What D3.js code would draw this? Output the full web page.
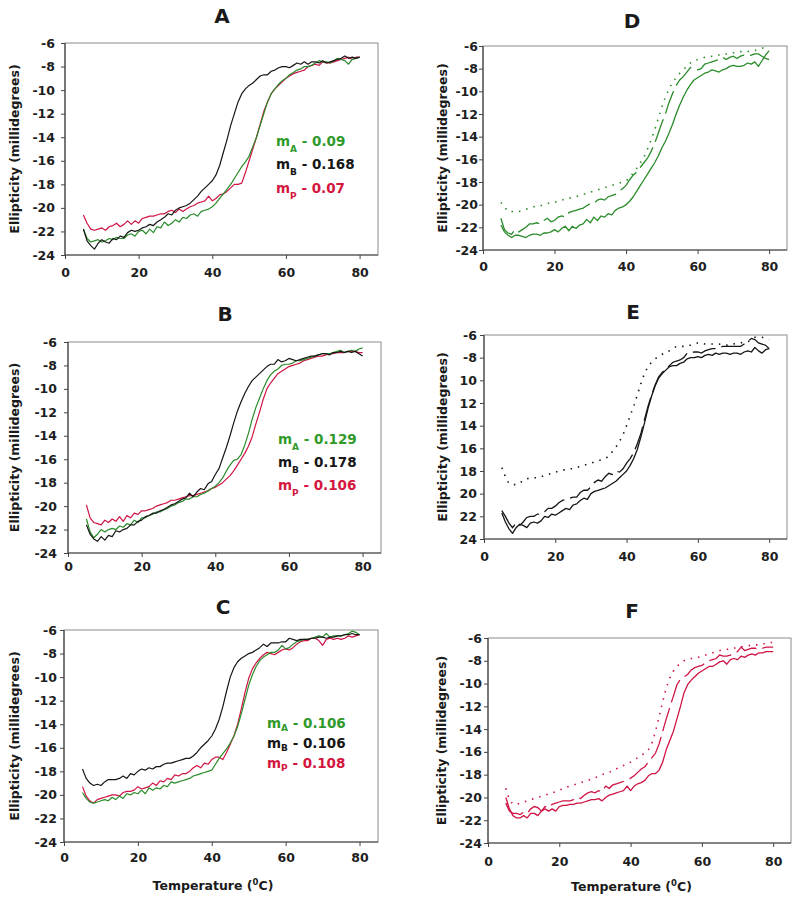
<!DOCTYPE html>
<html><head><meta charset="utf-8">
<script src="https://cdn.jsdelivr.net/npm/d3@7"></script>
<style>
body{margin:0;background:#fff}
svg{display:block}
text{font-family:"DejaVu Sans",Verdana,sans-serif;font-weight:bold}
</style>
</head><body>
<svg id="chart" width="800" height="900"></svg>
<script>
const temps=[5,6,7,8,9,10,11,12,13,14,15,16,17,18,19,20,21,22,23,24,25,26,27,28,29,30,31,32,33,34,35,36,37,38,39,40,41,42,43,44,45,46,47,48,49,50,51,52,53,54,55,56,57,58,59,60,61,62,63,64,65,66,67,68,69,70,71,72,73,74,75,76,77,78,79,80];

const aBlack=[-21.8,-22.8,-23.2,-23.5,-23.0,-22.7,-22.9,-23.0,-22.6,-22.7,
-22.4,-22.5,-22.1,-21.9,-22.0,-21.9,-21.7,-21.6,-21.4,-21.5,
-21.2,-21.0,-20.8,-20.5,-20.6,-20.2,-20.0,-19.9,-19.8,-19.6,
-19.3,-19.0,-18.6,-18.3,-18.0,-17.7,-17.2,-16.4,-15.3,-14.2,
-13.0,-12.0,-11.0,-10.3,-9.9,-9.6,-9.4,-9.1,-8.8,-8.7,
-8.7,-8.4,-8.3,-8.1,-8.0,-8.0,-8.1,-7.9,-7.7,-7.8,
-7.6,-7.8,-7.6,-7.6,-7.7,-7.5,-7.7,-7.6,-7.5,-7.4,
-7.3,-7.1,-7.3,-7.2,-7.3,-7.2];
const aGreen=[-21.8,-22.6,-22.9,-22.8,-22.7,-22.9,-22.8,-22.6,-22.7,-22.5,
-22.6,-22.6,-22.3,-22.2,-22.4,-22.0,-21.9,-22.2,-21.8,-22.1,
-21.6,-21.7,-21.2,-21.5,-21.3,-21.0,-21.2,-20.8,-20.9,-20.6,
-20.5,-20.7,-20.3,-20.2,-20.1,-19.9,-19.6,-19.2,-18.8,-18.4,
-18.0,-17.5,-17.0,-16.5,-16.1,-15.6,-14.8,-14.0,-13.0,-12.0,
-11.0,-10.3,-9.9,-9.5,-9.2,-9.0,-8.7,-8.5,-8.3,-8.2,
-8.0,-8.0,-7.9,-7.7,-7.5,-7.6,-7.6,-7.7,-7.5,-7.3,
-7.4,-7.5,-7.8,-7.4,-7.3,-7.2];
const aRed=[-20.6,-21.3,-21.8,-21.9,-21.8,-21.7,-21.9,-21.6,-21.5,-21.3,
-21.6,-21.4,-21.1,-21.4,-21.1,-21.3,-20.9,-20.8,-20.7,-20.7,
-20.6,-20.5,-20.5,-20.3,-20.2,-20.4,-20.1,-20.3,-20.1,-19.9,
-19.8,-19.6,-19.5,-19.4,-19.0,-19.4,-19.2,-18.9,-18.8,-18.6,
-18.3,-18.0,-18.0,-17.9,-17.0,-16.0,-15.0,-14.0,-12.9,-11.8,
-11.0,-10.3,-9.9,-9.6,-9.3,-9.0,-8.8,-8.6,-8.5,-8.4,
-8.3,-8.0,-7.9,-7.8,-7.9,-7.6,-7.7,-7.7,-7.6,-7.5,
-7.4,-7.3,-7.2,-7.4,-7.2,-7.2];

const bBlack=[-21.6,-22.4,-22.8,-23.0,-22.6,-22.9,-22.5,-22.6,-22.1,-22.2,
-22.0,-21.9,-21.6,-21.6,-21.3,-21.2,-20.9,-20.8,-20.6,-20.6,
-20.4,-20.3,-20.1,-19.9,-19.8,-19.6,-19.4,-19.3,-18.9,-19.2,
-18.8,-18.5,-18.6,-18.1,-17.9,-17.3,-16.8,-15.9,-15.0,-14.0,
-12.9,-11.9,-11.1,-10.4,-9.8,-9.3,-9.0,-8.7,-8.4,-8.1,
-7.9,-7.9,-7.5,-7.7,-7.6,-7.4,-7.5,-7.6,-7.5,-7.4,
-7.3,-7.2,-7.2,-7.1,-7.0,-7.0,-7.1,-6.9,-6.9,-6.8,
-6.9,-6.8,-6.9,-6.8,-7.0,-7.2];
const bGreen=[-21.1,-22.2,-22.7,-22.4,-22.0,-22.2,-22.0,-21.9,-22.0,-21.7,
-21.8,-21.5,-21.6,-21.2,-21.4,-21.0,-21.0,-20.8,-20.7,-20.5,
-20.5,-20.3,-20.2,-20.0,-19.9,-19.7,-19.6,-19.4,-19.4,-19.2,
-19.2,-19.0,-18.9,-18.7,-18.5,-18.3,-18.0,-17.6,-17.0,-16.5,
-16.1,-16.0,-15.6,-14.8,-13.8,-12.6,-11.6,-10.8,-10.0,-9.3,
-8.8,-8.5,-8.3,-8.0,-7.9,-7.9,-7.8,-7.6,-7.6,-7.5,
-7.4,-7.3,-7.2,-7.1,-7.0,-7.0,-7.0,-6.9,-6.8,-6.7,
-6.9,-6.8,-6.7,-6.8,-6.6,-6.5];
const bRed=[-19.9,-21.0,-21.4,-21.5,-21.6,-21.2,-21.4,-21.1,-21.3,-20.9,
-21.3,-20.8,-21.0,-20.6,-20.7,-20.4,-20.4,-20.3,-20.2,-20.0,
-19.9,-19.8,-19.7,-19.5,-19.5,-19.4,-19.3,-19.2,-19.1,-19.1,
-19.0,-18.9,-18.8,-18.7,-18.5,-18.4,-18.2,-18.0,-17.7,-17.4,
-17.0,-16.5,-16.0,-15.5,-14.9,-14.1,-13.0,-12.0,-10.9,-10.0,
-9.5,-9.1,-8.7,-8.5,-8.3,-8.1,-8.0,-7.9,-7.8,-7.6,
-7.5,-7.4,-7.3,-7.2,-7.2,-7.1,-7.0,-7.0,-6.9,-6.9,
-6.9,-6.8,-6.8,-6.8,-6.9,-6.9];

const cBlack=[-17.8,-18.6,-19.0,-19.2,-19.1,-19.2,-18.9,-18.7,-18.7,-18.7,
-18.6,-18.4,-18.6,-18.2,-18.3,-18.0,-17.8,-17.9,-17.7,-17.8,
-17.6,-17.6,-17.4,-17.3,-17.3,-17.2,-17.1,-17.0,-16.9,-16.9,
-16.7,-16.4,-16.0,-15.7,-15.4,-15.0,-14.4,-13.6,-12.5,-11.2,
-10.0,-9.2,-8.7,-8.4,-8.2,-8.0,-7.9,-7.7,-7.5,-7.2,
-7.4,-7.1,-7.1,-7.1,-7.0,-7.0,-6.7,-6.8,-6.9,-6.8,
-6.8,-6.8,-6.7,-6.7,-6.6,-6.6,-6.7,-6.6,-6.6,-6.5,
-6.5,-6.4,-6.4,-6.3,-6.4,-6.4];
const cGreen=[-19.8,-20.3,-20.6,-20.7,-20.6,-20.5,-20.4,-20.5,-20.2,-20.4,
-20.1,-20.3,-19.9,-20.0,-19.8,-19.9,-19.6,-19.9,-19.4,-19.6,
-19.4,-19.5,-19.2,-19.3,-18.9,-19.0,-18.9,-18.8,-18.7,-18.6,
-18.4,-18.3,-18.2,-18.1,-18.0,-17.9,-17.4,-16.9,-16.5,-16.1,
-15.6,-15.0,-14.2,-13.1,-11.9,-10.7,-9.8,-9.1,-8.6,-8.3,
-8.1,-7.9,-7.9,-7.7,-7.3,-7.6,-7.5,-7.2,-7.0,-6.9,
-6.8,-6.8,-6.7,-6.6,-6.5,-6.6,-6.3,-6.6,-6.5,-6.5,
-6.5,-6.4,-6.3,-6.1,-6.2,-6.4];
const cRed=[-19.3,-20.1,-20.5,-20.7,-20.4,-20.3,-20.2,-20.1,-20.0,-20.0,
-20.1,-19.8,-19.7,-19.7,-19.6,-19.3,-19.5,-19.4,-19.3,-19.0,
-19.2,-18.8,-18.9,-18.6,-18.7,-18.3,-18.4,-18.2,-18.2,-18.0,
-17.7,-17.5,-17.7,-17.3,-17.4,-17.0,-16.8,-16.8,-17.0,-16.4,
-15.7,-15.0,-14.0,-12.7,-11.3,-10.1,-9.3,-8.8,-8.4,-8.1,
-7.9,-8.0,-8.1,-7.9,-7.7,-7.6,-7.7,-7.5,-7.2,-7.0,
-6.9,-6.9,-6.7,-6.7,-6.9,-7.3,-6.8,-6.7,-6.8,-6.7,
-6.8,-6.7,-6.5,-6.6,-6.5,-6.4];

const dSolid=[-21.8,-22.4,-22.7,-22.9,-22.7,-22.7,-22.8,-22.9,-22.7,-22.6,
-22.6,-22.7,-22.5,-22.5,-22.4,-22.2,-22.4,-22.1,-21.9,-22.3,
-21.9,-22.1,-21.8,-21.7,-21.3,-21.6,-21.1,-21.4,-21.0,-21.1,
-20.8,-20.9,-20.5,-20.3,-20.2,-20.0,-19.7,-19.3,-18.8,-18.3,
-17.8,-17.3,-16.8,-16.3,-15.7,-15.0,-14.4,-13.7,-12.9,-12.0,
-11.2,-10.5,-9.9,-9.4,-9.0,-8.8,-8.6,-8.4,-8.3,-8.1,
-8.2,-8.3,-8.1,-8.0,-7.8,-7.7,-7.8,-7.8,-7.7,-7.5,
-7.6,-7.4,-7.8,-7.3,-6.8,-6.4];
const dDashed=[-21.2,-22.2,-22.5,-22.6,-22.2,-22.4,-22.2,-22.0,-21.7,-21.7,
-21.6,-21.7,-21.4,-21.2,-21.5,-21.4,-21.1,-21.0,-21.1,-20.7,
-20.6,-20.5,-20.4,-20.3,-20.1,-19.9,-19.9,-19.6,-19.5,-19.6,
-19.3,-19.2,-19.1,-18.8,-18.6,-18.3,-17.8,-17.4,-17.1,-16.7,
-16.3,-15.9,-15.3,-14.6,-13.7,-12.8,-12.0,-11.0,-10.2,-9.5,
-9.0,-8.7,-8.3,-7.9,-8.0,-8.1,-8.0,-7.6,-7.5,-7.4,
-7.3,-7.2,-7.0,-7.2,-7.0,-6.9,-7.1,-6.9,-6.8,-6.9,
-6.8,-6.7,-6.7,-6.9,-7.1,-7.2];
const dDotted=[-19.8,-20.2,-20.6,-20.6,-20.6,-20.6,-20.5,-20.4,-20.3,-20.2,
-20.1,-20.1,-20.0,-19.9,-19.8,-19.8,-19.7,-19.6,-19.5,-19.4,
-19.4,-19.3,-19.2,-19.1,-19.0,-18.9,-18.8,-18.7,-18.6,-18.5,
-18.4,-18.3,-18.2,-18.1,-18.0,-17.9,-17.6,-17.2,-16.8,-16.3,
-15.8,-15.1,-14.3,-13.4,-12.4,-11.4,-10.5,-9.8,-9.2,-8.8,
-8.4,-8.1,-7.8,-7.5,-7.3,-7.2,-7.1,-7.0,-7.0,-6.9,
-6.9,-6.8,-6.8,-6.7,-6.7,-6.6,-6.6,-6.5,-6.5,-6.5,
-6.4,-6.4,-6.3,-6.2,-6.1,-6.0];

const eSolid=[-21.7,-22.5,-23.1,-23.5,-23.0,-22.7,-22.8,-23.0,-22.6,-22.5,
-22.6,-22.4,-22.0,-22.1,-21.8,-21.9,-21.7,-21.5,-21.3,-21.4,
-21.0,-20.9,-20.6,-20.4,-20.5,-20.0,-19.8,-19.7,-19.6,-19.5,
-19.3,-19.1,-18.9,-18.6,-18.3,-18.0,-17.5,-16.9,-16.1,-15.0,
-13.8,-12.5,-11.4,-10.5,-9.8,-9.4,-9.1,-8.8,-8.7,-8.7,
-8.5,-8.4,-8.1,-8.0,-8.0,-7.9,-8.0,-7.8,-7.7,-7.8,
-7.6,-7.7,-7.6,-7.6,-7.7,-7.6,-7.6,-7.7,-7.5,-7.4,
-7.5,-7.1,-7.4,-7.6,-7.3,-7.2];
const eDashed=[-21.5,-22.0,-22.6,-23.0,-22.6,-22.8,-22.5,-22.1,-22.0,-22.0,
-21.8,-21.8,-21.6,-21.3,-21.3,-21.1,-20.8,-20.6,-20.5,-20.4,
-20.3,-20.3,-19.9,-19.7,-19.7,-19.4,-19.0,-18.8,-18.9,-18.5,
-18.2,-18.3,-18.0,-18.1,-17.8,-17.3,-16.9,-16.4,-15.6,-14.7,
-13.5,-12.3,-11.3,-10.4,-9.7,-9.3,-9.0,-8.7,-8.4,-8.3,
-8.2,-8.0,-7.6,-7.6,-7.5,-7.5,-7.6,-7.4,-7.3,-7.2,
-7.2,-7.1,-7.0,-7.0,-7.0,-7.0,-7.0,-7.0,-6.8,-6.6,
-6.3,-6.4,-6.7,-6.8,-6.9,-7.2];
const eDotted=[-17.7,-18.5,-19.1,-19.2,-19.2,-19.1,-18.8,-18.7,-18.6,-18.6,
-18.6,-18.5,-18.4,-18.3,-18.2,-18.1,-18.0,-17.9,-17.9,-17.8,
-17.8,-17.7,-17.6,-17.5,-17.4,-17.3,-17.2,-17.1,-17.0,-16.9,
-16.7,-16.3,-15.9,-15.4,-14.8,-14.0,-13.1,-12.3,-11.3,-10.3,
-9.4,-8.8,-8.4,-8.1,-7.9,-7.7,-7.5,-7.4,-7.2,-7.0,
-7.0,-7.0,-6.9,-6.9,-6.8,-6.7,-6.7,-6.8,-6.8,-6.8,
-6.8,-6.8,-6.9,-6.9,-6.8,-6.8,-6.7,-6.7,-6.6,-6.6,
-6.4,-6.2,-6.2,-6.2,-6.3,-6.4];

const fSolid=[-20.0,-21.0,-21.6,-21.8,-21.8,-21.6,-21.8,-21.4,-21.4,-21.6,
-21.2,-21.0,-21.2,-21.0,-21.2,-20.8,-20.7,-20.7,-20.6,-20.6,
-20.5,-20.5,-20.4,-20.3,-20.2,-20.2,-20.1,-20.3,-20.0,-19.8,
-19.7,-19.6,-19.5,-19.4,-19.0,-19.4,-19.0,-18.8,-18.7,-18.5,
-18.1,-17.9,-17.9,-17.6,-16.9,-15.8,-15.0,-14.2,-13.1,-12.0,
-10.8,-10.1,-9.7,-9.4,-9.1,-8.9,-8.7,-8.5,-8.5,-8.3,
-8.1,-8.0,-8.3,-7.9,-7.8,-7.9,-7.6,-7.7,-7.5,-7.4,
-7.5,-7.3,-7.3,-7.2,-7.2,-7.2];
const fDashed=[-20.5,-21.2,-21.4,-21.4,-21.5,-21.3,-21.4,-21.0,-20.8,-20.9,
-21.2,-20.8,-20.9,-20.6,-20.5,-20.4,-20.3,-20.3,-20.3,-20.2,
-20.0,-20.1,-19.8,-19.6,-19.5,-19.6,-19.4,-19.5,-19.0,-19.2,
-18.9,-18.8,-18.7,-18.6,-18.5,-18.3,-18.1,-17.8,-17.5,-17.3,
-16.9,-16.5,-16.1,-15.3,-14.2,-13.1,-12.1,-11.1,-10.1,-9.6,
-9.4,-9.2,-8.8,-8.6,-8.5,-8.4,-8.2,-8.0,-7.9,-7.8,
-7.5,-7.6,-7.6,-7.5,-7.3,-7.2,-6.8,-7.1,-7.0,-6.9,
-6.9,-7.0,-6.9,-6.8,-6.8,-6.8];
const fDotted=[-19.2,-20.2,-20.6,-20.6,-20.5,-20.4,-20.3,-20.2,-20.1,-20.0,
-19.9,-19.8,-19.7,-19.6,-19.5,-19.4,-19.2,-19.1,-19.0,-18.9,
-18.8,-18.7,-18.6,-18.5,-18.4,-18.3,-18.1,-18.0,-17.9,-17.8,
-17.6,-17.5,-17.3,-17.2,-17.0,-16.9,-16.7,-16.5,-16.3,-16.1,
-15.8,-15.2,-14.2,-12.9,-11.6,-10.4,-9.5,-8.9,-8.5,-8.2,
-8.0,-7.9,-7.8,-7.8,-7.7,-7.6,-7.5,-7.4,-7.3,-7.2,
-7.1,-7.0,-7.0,-6.9,-6.9,-6.8,-6.8,-6.7,-6.7,-6.6,
-6.6,-6.6,-6.5,-6.5,-6.4,-6.4];

const xTicks=[0,20,40,60,80];
const yTicks=[-24,-22,-20,-18,-16,-14,-12,-10,-8,-6];
const yTickLabels=["-24","-22","-20","-18","-16","-14","-12","-10","-8","-6"];
const yTickLabelsE=["24","22","20","18","16","14","12","10","-8","-6"];
const noteLetters=["A","B","P"];
const notesA=["0.09","0.168","0.07"];
const notesB=["0.129","0.178","0.106"];
const notesC=["0.106","0.106","0.108"];
const panelTitles=["A","B","C","D","E","F"];
const yTitle="Ellipticity (millidegrees)";

const GREEN="#2a8c2a", RED="#cf1444", BLACK="#161616";
const NOTE_GREEN="#2f9a2a", NOTE_RED="#d4163f";

const svg=d3.select("#chart");

const panels=[
 {t:0, box:[65,43,378,255], tx:222, ty:23, ylx:15, yPad:6, xPad:9, labels:yTickLabels,
  series:[{v:aRed,c:RED},{v:aGreen,c:GREEN},{v:aBlack,c:BLACK}],
  notes:{x:276, ys:[146,169,193], vals:notesA, sub:6}},
 {t:1, box:[68,342,381,553], tx:225, ty:321, ylx:15, yPad:7, xPad:5, labels:yTickLabels,
  series:[{v:bRed,c:RED},{v:bGreen,c:GREEN},{v:bBlack,c:BLACK}],
  notes:{x:278, ys:[444,467,490], vals:notesB, sub:6}},
 {t:2, box:[64,630,378,842], tx:223, ty:614, ylx:15, yPad:3, xPad:7, labels:yTickLabels,
  series:[{v:cRed,c:RED},{v:cGreen,c:GREEN},{v:cBlack,c:BLACK}],
  notes:{x:267, ys:[728,748,768], vals:notesC, sub:3}, xTitle:true},
 {t:3, box:[483,46,787,250], tx:632, ty:28, ylx:443, yPad:1, xPad:8, labels:yTickLabels,
  lines:[{v:dSolid,c:GREEN,k:"solid"},{v:dDashed,c:GREEN,k:"dash"},{v:dDotted,c:GREEN,k:"dot"}]},
 {t:4, box:[484,335,787,539], tx:633, ty:319, ylx:443, yPad:3, xPad:9, labels:yTickLabelsE,
  lines:[{v:eSolid,c:BLACK,k:"solid"},{v:eDashed,c:BLACK,k:"dash"},{v:eDotted,c:BLACK,k:"dot"}]},
 {t:5, box:[488,638,791,843], tx:632, ty:618, ylx:442, yPad:2, xPad:10, labels:yTickLabels,
  lines:[{v:fSolid,c:RED,k:"solid"},{v:fDashed,c:RED,k:"dash"},{v:fDotted,c:RED,k:"dot"}], xTitle:true}
];

panels.forEach(p=>{
  const [l,t,r,b]=p.box;
  const x=d3.scaleLinear().domain([0,85]).range([l,r]);
  const y=d3.scaleLinear().domain([-24,-6]).range([b,t]);
  const g=svg.append("g");

  g.append("rect").attr("x",l).attr("y",t).attr("width",r-l).attr("height",b-t)
    .attr("fill","none").attr("stroke","#8c8c8c").attr("stroke-width",1);

  const yAxis=d3.axisLeft(y).tickValues(yTicks).tickSize(4).tickPadding(p.yPad)
    .tickFormat((d,i)=>p.labels[i]);
  const ya=g.append("g").attr("transform",`translate(${l},0)`).call(yAxis);
  const xAxis=d3.axisBottom(x).tickValues(xTicks).tickSize(4).tickPadding(p.xPad).tickFormat(d3.format("d"));
  const xa=g.append("g").attr("transform",`translate(0,${b})`).call(xAxis);
  [ya,xa].forEach(a=>{
    a.select(".domain").attr("stroke","#444").attr("stroke-width",1.2);
    a.selectAll(".tick line").attr("stroke","#444");
    a.selectAll(".tick text").attr("fill","#1e1e1e").style("font-size","12.5px")
      .style("font-weight","bold").style("font-family",'"DejaVu Sans",Verdana,sans-serif');
  });
  ya.select(".domain").attr("d",`M0,${b}V${t}`);
  xa.select(".domain").attr("d",`M${l},0H${r}`);

  g.append("text").attr("x",p.tx).attr("y",p.ty).attr("text-anchor","middle")
    .style("font-size","20px").attr("fill","#1a1a1a").text(panelTitles[p.t]);

  g.append("text").attr("transform",`translate(${p.ylx},${(t+b)/2}) rotate(-90)`)
    .attr("text-anchor","middle").attr("dy","0.35em").style("font-size","12.5px")
    .attr("fill","#1a1a1a").text(yTitle);

  const line=d3.line().x((d,i)=>x(temps[i])).y(d=>y(d));

  if(p.series){
    p.series.forEach(s=>{
      g.append("path").attr("d",line(s.v)).attr("fill","none")
        .attr("stroke",s.c).attr("stroke-width",1.2).attr("stroke-linejoin","round");
    });
    const cols=[NOTE_GREEN,BLACK,NOTE_RED];
    p.notes.ys.forEach((yy,i)=>{
      const tx=g.append("text").attr("x",p.notes.x).attr("y",yy).attr("fill",cols[i]).style("font-size","13.5px");
      tx.append("tspan").text("m");
      tx.append("tspan").attr("dy",p.notes.sub).style("font-size","9px").text(noteLetters[i]);
      tx.append("tspan").attr("dy",-p.notes.sub).text(" - "+p.notes.vals[i]);
    });
  }
  if(p.lines){
    p.lines.forEach(s=>{
      const path=g.append("path").attr("d",line(s.v)).attr("fill","none").attr("stroke",s.c);
      if(s.k==="solid") path.attr("stroke-width",1.3).attr("stroke-linejoin","round");
      if(s.k==="dash") path.attr("stroke-width",1.3).attr("stroke-dasharray","24,6");
      if(s.k==="dot") path.attr("stroke-width",1.6).attr("stroke-dasharray","1.5,6");
    });
  }

  if(p.xTitle){
    const xt=g.append("text").attr("x",(l+r)/2-8).attr("y",b+48).attr("text-anchor","middle")
      .style("font-size","12.5px").attr("fill","#1a1a1a");
    xt.append("tspan").text("Temperature (");
    xt.append("tspan").attr("dy",-5).style("font-size","8.5px").text("0");
    xt.append("tspan").attr("dy",5).text("C)");
  }
});
</script>
</body></html>
